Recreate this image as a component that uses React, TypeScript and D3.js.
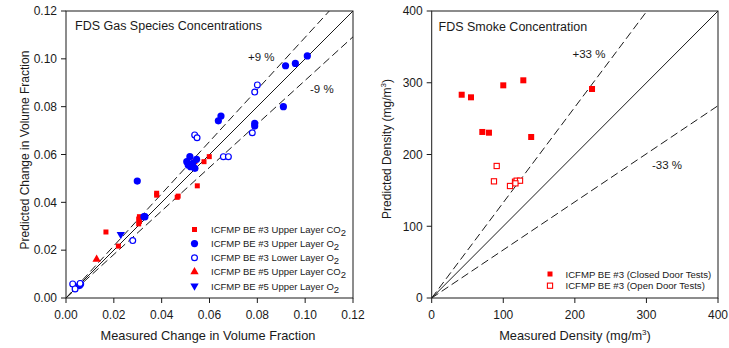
import React from "react";
import * as d3 from "d3";

// ---------- Data ----------
const be3UpperCO2: [number, number][] = [
  [0.0167, 0.0276], [0.0219, 0.0217], [0.0307, 0.034], [0.0304, 0.033], [0.0307, 0.032],
  [0.0304, 0.031], [0.0379, 0.0438], [0.0379, 0.043], [0.0465, 0.0421], [0.0469, 0.0426],
  [0.0549, 0.0469], [0.0539, 0.057], [0.0577, 0.057], [0.0599, 0.0591],
];
const be3UpperO2: [number, number][] = [
  [0.0061, 0.0059], [0.0056, 0.0052], [0.0298, 0.0489], [0.0326, 0.034], [0.033, 0.034],
  [0.0505, 0.057], [0.0518, 0.0591], [0.0511, 0.0556], [0.0521, 0.0549], [0.0539, 0.0542],
  [0.0546, 0.058], [0.053, 0.0563], [0.0637, 0.0741], [0.0648, 0.0761], [0.0789, 0.073],
  [0.0789, 0.0719], [0.0909, 0.08], [0.0918, 0.0971], [0.0959, 0.0981], [0.1009, 0.1012],
];
const be3LowerO2: [number, number][] = [
  [0.0028, 0.0059], [0.0038, 0.0038], [0.0059, 0.0061], [0.0279, 0.024], [0.0538, 0.0682],
  [0.0548, 0.067], [0.0658, 0.0591], [0.0679, 0.0591], [0.0779, 0.0691], [0.0789, 0.0861],
  [0.08, 0.0891],
];
const be5UpperCO2: [number, number][] = [[0.0128, 0.0162]];
const be5UpperO2: [number, number][] = [[0.0229, 0.0266]];

const smokeClosed: [number, number][] = [
  [41.9, 283.3], [54.9, 279.7], [100, 296.4], [128, 303.4], [224, 291.3],
  [70.7, 231.4], [80, 230.4], [139, 224.4],
];
const smokeOpen: [number, number][] = [
  [90.8, 184], [87, 162.6], [109.4, 156.1], [116.4, 162.1], [118.7, 163.5], [123.4, 163.5], [117, 159.8],
];

const gasTicks = [0, 0.02, 0.04, 0.06, 0.08, 0.1, 0.12];
const smokeTicks = [0, 100, 200, 300, 400];
const gasBounds = [1.09, 0.91];
const smokeBounds = [1.33, 0.67];

const FONT = "'Liberation Sans', Arial, sans-serif";
const RED = "#ff0000";
const BLUE = "#0000ff";
const INK = "#1a1a1a";

// ---------- Layout ----------
const L = { x0: 66, x1: 353, y0: 298, y1: 11 };
const R = { x0: 431.7, x1: 718, y0: 298, y1: 11 };

const gx = d3.scaleLinear().domain([0, 0.12]).range([L.x0, L.x1]);
const gy = d3.scaleLinear().domain([0, 0.12]).range([L.y0, L.y1]);
const sx = d3.scaleLinear().domain([0, 400]).range([R.x0, R.x1]);
const sy = d3.scaleLinear().domain([0, 400]).range([R.y0, R.y1]);

const tri = d3.symbol().type(d3.symbolTriangle).size(30);

function Marker({ kind, x, y }: { kind: string; x: number; y: number }) {
  switch (kind) {
    case "sqRed":
      return <rect x={x - 2.5} y={y - 2.5} width={5} height={5} fill={RED} />;
    case "dotBlue":
      return <circle cx={x} cy={y} r={3.6} fill={BLUE} />;
    case "openBlue":
      return <circle cx={x} cy={y} r={2.9} fill="white" stroke={BLUE} strokeWidth={1.2} />;
    case "triRed":
      return <path d={tri() as string} transform={`translate(${x},${y})`} fill={RED} />;
    case "triDownBlue":
      return <path d={tri() as string} transform={`translate(${x},${y}) rotate(180)`} fill={BLUE} />;
    case "bigSqRed":
      return <rect x={x - 3} y={y - 3} width={6} height={6} fill={RED} />;
    case "openSqRed":
      return <rect x={x - 2.6} y={y - 2.6} width={5.2} height={5.2} fill="white" stroke={RED} strokeWidth={1.1} />;
  }
  return null;
}

function Axes({ x, y, ticks, fmt, box }: any) {
  return (
    <g fontFamily={FONT} fontSize={12} fill={INK}>
      <rect x={box.x0} y={box.y1} width={box.x1 - box.x0} height={box.y0 - box.y1} fill="none" stroke={INK} strokeWidth={1} />
      {ticks.map((t: number) => (
        <g key={"x" + t}>
          <line x1={x(t)} x2={x(t)} y1={box.y0} y2={box.y0 + 5} stroke={INK} />
          <text x={x(t)} y={box.y0 + 21} textAnchor="middle">{fmt(t)}</text>
        </g>
      ))}
      {ticks.map((t: number) => (
        <g key={"y" + t}>
          <line x1={box.x0 - 5} x2={box.x0} y1={y(t)} y2={y(t)} stroke={INK} />
          <text x={box.x0 - 9} y={y(t) + 4.3} textAnchor="end">{fmt(t)}</text>
        </g>
      ))}
    </g>
  );
}

function RefLines({ x, y, max, bounds, clip }: any) {
  const line = d3.line<[number, number]>().x((d) => x(d[0])).y((d) => y(d[1]));
  return (
    <g clipPath={`url(#${clip})`} fill="none" stroke={INK}>
      <path d={line([[0, 0], [max, max]]) as string} strokeWidth={1} />
      {bounds.map((b: number) => (
        <path key={b} d={line([[0, 0], [max, max * b]]) as string} strokeWidth={1} strokeDasharray="8,4" />
      ))}
    </g>
  );
}

function Sub({ base, sub }: { base: string; sub: string }) {
  return (
    <>
      {base}
      <tspan dy={3}>{sub}</tspan>
    </>
  );
}

export default function App() {
  const gasSeries = [
    { data: be3UpperCO2, kind: "sqRed", label: "ICFMP BE #3 Upper Layer CO", sub: "2" },
    { data: be3UpperO2, kind: "dotBlue", label: "ICFMP BE #3 Upper Layer O", sub: "2" },
    { data: be3LowerO2, kind: "openBlue", label: "ICFMP BE #3 Lower Layer O", sub: "2" },
    { data: be5UpperCO2, kind: "triRed", label: "ICFMP BE #5 Upper Layer CO", sub: "2" },
    { data: be5UpperO2, kind: "triDownBlue", label: "ICFMP BE #5 Upper Layer O", sub: "2" },
  ];
  const smokeSeries = [
    { data: smokeClosed, kind: "bigSqRed", label: "ICFMP BE #3 (Closed Door Tests)" },
    { data: smokeOpen, kind: "openSqRed", label: "ICFMP BE #3 (Open Door Tests)" },
  ];
  return (
    <svg width={729} height={348} style={{ position: "absolute", left: 0, top: 0, background: "white" }}>
      <defs>
        <clipPath id="clipL"><rect x={L.x0} y={L.y1} width={L.x1 - L.x0} height={L.y0 - L.y1} /></clipPath>
        <clipPath id="clipR"><rect x={R.x0} y={R.y1} width={R.x1 - R.x0} height={R.y0 - R.y1} /></clipPath>
      </defs>

      {/* Left panel */}
      <RefLines x={gx} y={gy} max={0.12} bounds={gasBounds} clip="clipL" />
      <Axes x={gx} y={gy} ticks={gasTicks} fmt={d3.format(".2f")} box={L} />
      <g fontFamily={FONT} fill={INK}>
        <text x={75} y={30} fontSize={12.5}>FDS Gas Species Concentrations</text>
        <text x={248} y={61} fontSize={11.5}>+9 %</text>
        <text x={310} y={93} fontSize={11.5}>-9 %</text>
        <text x={208} y={340} fontSize={12.8} textAnchor="middle">Measured Change in Volume Fraction</text>
        <text transform={`translate(29,150) rotate(-90)`} fontSize={12} textAnchor="middle">
          Predicted Change in Volume Fraction
        </text>
      </g>
      {gasSeries.map((s) => (
        <g key={s.kind}>
          {s.data.map((d, i) => (
            <Marker key={i} kind={s.kind} x={gx(d[0])} y={gy(d[1])} />
          ))}
        </g>
      ))}
      <g fontFamily={FONT} fontSize={9.5} fill={INK}>
        {gasSeries.map((s, i) => {
          const yy = 229.5 + i * 14.1;
          return (
            <g key={s.kind}>
              <Marker kind={s.kind} x={194.5} y={yy} />
              <text x={211} y={yy + 3.6}>
                <Sub base={s.label} sub={s.sub} />
              </text>
            </g>
          );
        })}
      </g>

      {/* Right panel */}
      <RefLines x={sx} y={sy} max={400} bounds={smokeBounds} clip="clipR" />
      <Axes x={sx} y={sy} ticks={smokeTicks} fmt={d3.format("d")} box={R} />
      <g fontFamily={FONT} fill={INK}>
        <text x={438.5} y={31} fontSize={12.5}>FDS Smoke Concentration</text>
        <text x={572.5} y={58} fontSize={11.5}>+33 %</text>
        <text x={652} y={169} fontSize={11.5}>-33 %</text>
        <text x={575} y={340} fontSize={12.8} textAnchor="middle">
          Measured Density (mg/m<tspan fontSize={8} dy={-5}>3</tspan><tspan dy={5}>)</tspan>
        </text>
        <text transform={`translate(391,149) rotate(-90)`} fontSize={12} textAnchor="middle">
          Predicted Density (mg/m<tspan fontSize={8} dy={-5}>3</tspan><tspan dy={5}>)</tspan>
        </text>
      </g>
      {smokeSeries.map((s) => (
        <g key={s.kind}>
          {s.data.map((d, i) => (
            <Marker key={i} kind={s.kind} x={sx(d[0])} y={sy(d[1])} />
          ))}
        </g>
      ))}
      <g fontFamily={FONT} fontSize={9.6} fill={INK}>
        {smokeSeries.map((s, i) => {
          const yy = 274 + i * 11.7;
          return (
            <g key={s.kind}>
              <Marker kind={s.kind === "bigSqRed" ? "sqRed" : "openSqRed"} x={550} y={yy} />
              <text x={565.5} y={yy + 3.5}>{s.label}</text>
            </g>
          );
        })}
      </g>
    </svg>
  );
}
